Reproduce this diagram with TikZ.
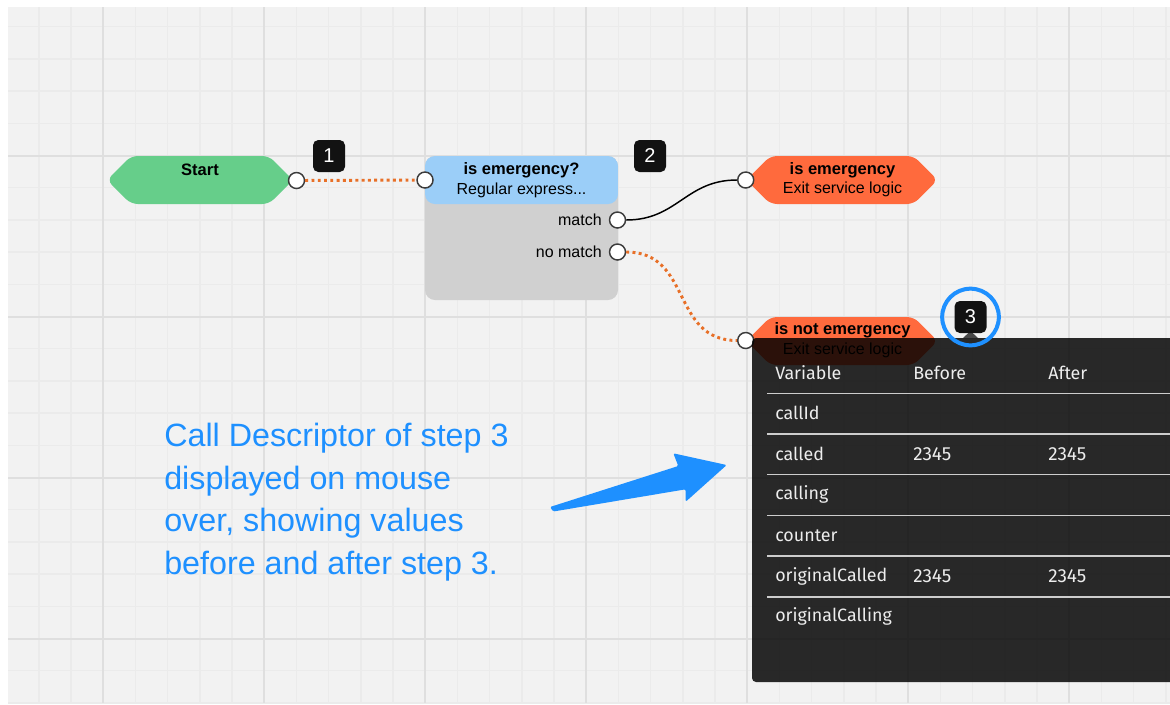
\documentclass[tikz,border=0pt]{standalone}
\usepackage{fontspec}
\setmainfont{Liberation Sans}
\newfontfamily\tablefont{Fira Sans}
\usetikzlibrary{shapes.symbols}

\definecolor{gridbg}{RGB}{242,242,242}
\definecolor{gridminor}{RGB}{235,235,235}
\definecolor{gridmajor}{RGB}{223,223,223}
\definecolor{startgreen}{RGB}{102,206,138}
\definecolor{condblue}{RGB}{155,206,248}
\definecolor{condgray}{RGB}{208,208,208}
\definecolor{exitorange}{RGB}{255,106,61}
\definecolor{wireorange}{RGB}{232,112,40}
\definecolor{noteblue}{RGB}{30,144,255}
\definecolor{portedge}{RGB}{60,60,60}
\definecolor{rowline}{RGB}{205,205,205}

\begin{document}
\begin{tikzpicture}[x=0.75pt, y=-0.75pt,
    hexnode/.style={signal, signal to=west and east, signal pointer angle=90, rounded corners=5pt, inner sep=0pt, minimum height=36pt},
    port/.style={circle, draw=portedge, fill=white, line width=1.1pt, minimum size=12pt, inner sep=0pt},
    badge/.style={rectangle, rounded corners=4pt, fill=black!93, text=white, minimum size=24pt, inner sep=0pt, font=\fontsize{15}{15}\selectfont},
    title/.style={inner sep=0pt, font=\bfseries\fontsize{12.4}{14}\selectfont},
    sub/.style={inner sep=0pt, font=\fontsize{12}{14}\selectfont},
    wire/.style={wireorange, line width=2.2pt, dash pattern=on 2.2pt off 2.5pt},
    cell/.style={anchor=west, inner sep=0pt, text=white!93!black, font=\tablefont\fontsize{13.4}{15}\selectfont}
]
\useasboundingbox (0,0) rectangle (1170,704);
\fill[white] (0,0) rectangle (1170,704);

\begin{scope}
\clip (8,7) rectangle (1170,703);
\fill[gridbg] (8,7) rectangle (1170,703);
\foreach \k in {-2,...,33}
    \draw[gridminor, line width=1.1pt] ({103.3+32.2*\k},7) -- ({103.3+32.2*\k},703);
\foreach \k in {-4,...,17}
    \draw[gridminor, line width=1.1pt] (8,{155.5+32.2*\k}) -- (1170,{155.5+32.2*\k});
\foreach \k in {0,...,6}
    \draw[gridmajor, line width=1.5pt] ({103.3+161*\k},7) -- ({103.3+161*\k},703);
\foreach \k in {0,...,3}
    \draw[gridmajor, line width=1.5pt] (8,{155.5+161*\k}) -- (1170,{155.5+161*\k});
\end{scope}

\node[hexnode, fill=startgreen, minimum width=139.5pt] (start) at (200,180) {};
\node[title] (starttxt) at (200,169.5) {Start};

\node[rectangle, rounded corners=7.5pt, fill=condgray, minimum width=144.75pt, minimum height=108pt, inner sep=0pt,
    path picture={\fill[condblue] (path picture bounding box.north west) rectangle ([yshift=-36pt]path picture bounding box.north east);}] (cond) at (521.5,228) {};
\node[title] (condtitle) at (521.5,170.5) {is emergency?};
\node[sub] (condsub) at (521.5,190) {Regular express...};
\node[sub, anchor=east] (matchtxt) at (602,220) {match};
\node[sub, anchor=east] (nomatchtxt) at (602,252) {no match};

\node[hexnode, fill=exitorange, minimum width=143.5pt] (exitem) at (842,180) {};
\node[title] (exitemtitle) at (842.5,170.5) {is emergency};
\node[sub] (exitemsub) at (842.5,189.5) {Exit service logic};

\node[hexnode, fill=exitorange, minimum width=143.5pt] (exitnot) at (842,341) {};
\node[title] (exitnottitle) at (842.5,330.5) {is not emergency};
\node[sub] (exitnotsub) at (842.5,350) {Exit service logic};

\node[port] (startout) at (296.5,180.5) {};
\node[port] (condin) at (425,180) {};
\node[port] (matchout) at (617.5,220) {};
\node[port] (nomatchout) at (617.5,252) {};
\node[port] (exitemin) at (745.7,180) {};
\node[port] (exitnotin) at (745.7,340.5) {};

\draw[wire] (startout) -- (condin);
\draw[black, line width=1.1pt] (matchout) .. controls +(60,0) and +(-60,0) .. (exitemin);
\draw[wire] (nomatchout) .. controls +(75,0) and +(-75,0) .. (exitnotin);

\node[badge] (b1) at (329,156) {1};
\node[badge] (b2) at (650,156) {2};

\begin{scope}
\clip (0,0) rectangle (1170,704);
\fill[black, opacity=0.83, rounded corners=3pt] (752,338) rectangle (1190,682);
\fill[black, opacity=0.7] (963,338) -- (970.5,331) -- (978,338) -- cycle;
\node[cell] (hdvar) at (775,372.5) {Variable};
\node[cell] (hdbefore) at (913,372.5) {Before};
\node[cell] (hdafter) at (1048,372.5) {After};
\foreach \name/\before/\after [count=\i] in {callId/{}/{}, called/2345/2345, calling/{}/{}, counter/{}/{}, originalCalled/2345/2345, originalCalling/{}/{}} {
    \draw[rowline, line width=1.1pt] (767,{393.3+40.7*(\i-1)}) -- (1170,{393.3+40.7*(\i-1)});
    \node[cell] (var\i) at (775,{413.3+40.7*(\i-1)}) {\name};
    \node[cell, font=\tablefont\fontsize{14.2}{15}\selectfont] (before\i) at (913,{413.3+40.7*(\i-1)}) {\before};
    \node[cell, font=\tablefont\fontsize{14.2}{15}\selectfont] (after\i) at (1048,{413.3+40.7*(\i-1)}) {\after};
}
\end{scope}

\node[badge] (b3) at (970.5,317) {3};
\node[circle, draw=noteblue, line width=3pt, minimum size=42.5pt, inner sep=0pt] (ring) at (970.5,317) {};

\node[anchor=north west, inner sep=0pt, align=left, text=noteblue, font=\fontsize{24.2}{31.9}\selectfont] (note) at (164,423)
    {Call Descriptor of step 3\\displayed on mouse\\over, showing values\\before and after step 3.};

\fill[noteblue, rounded corners=1pt] (550,507) -- (678.3,466) -- (673.3,453.3) -- (726.7,465) -- (685.7,501.7) -- (685.7,489.3) -- (553.3,511.5) -- cycle;
\end{tikzpicture}
\end{document}
